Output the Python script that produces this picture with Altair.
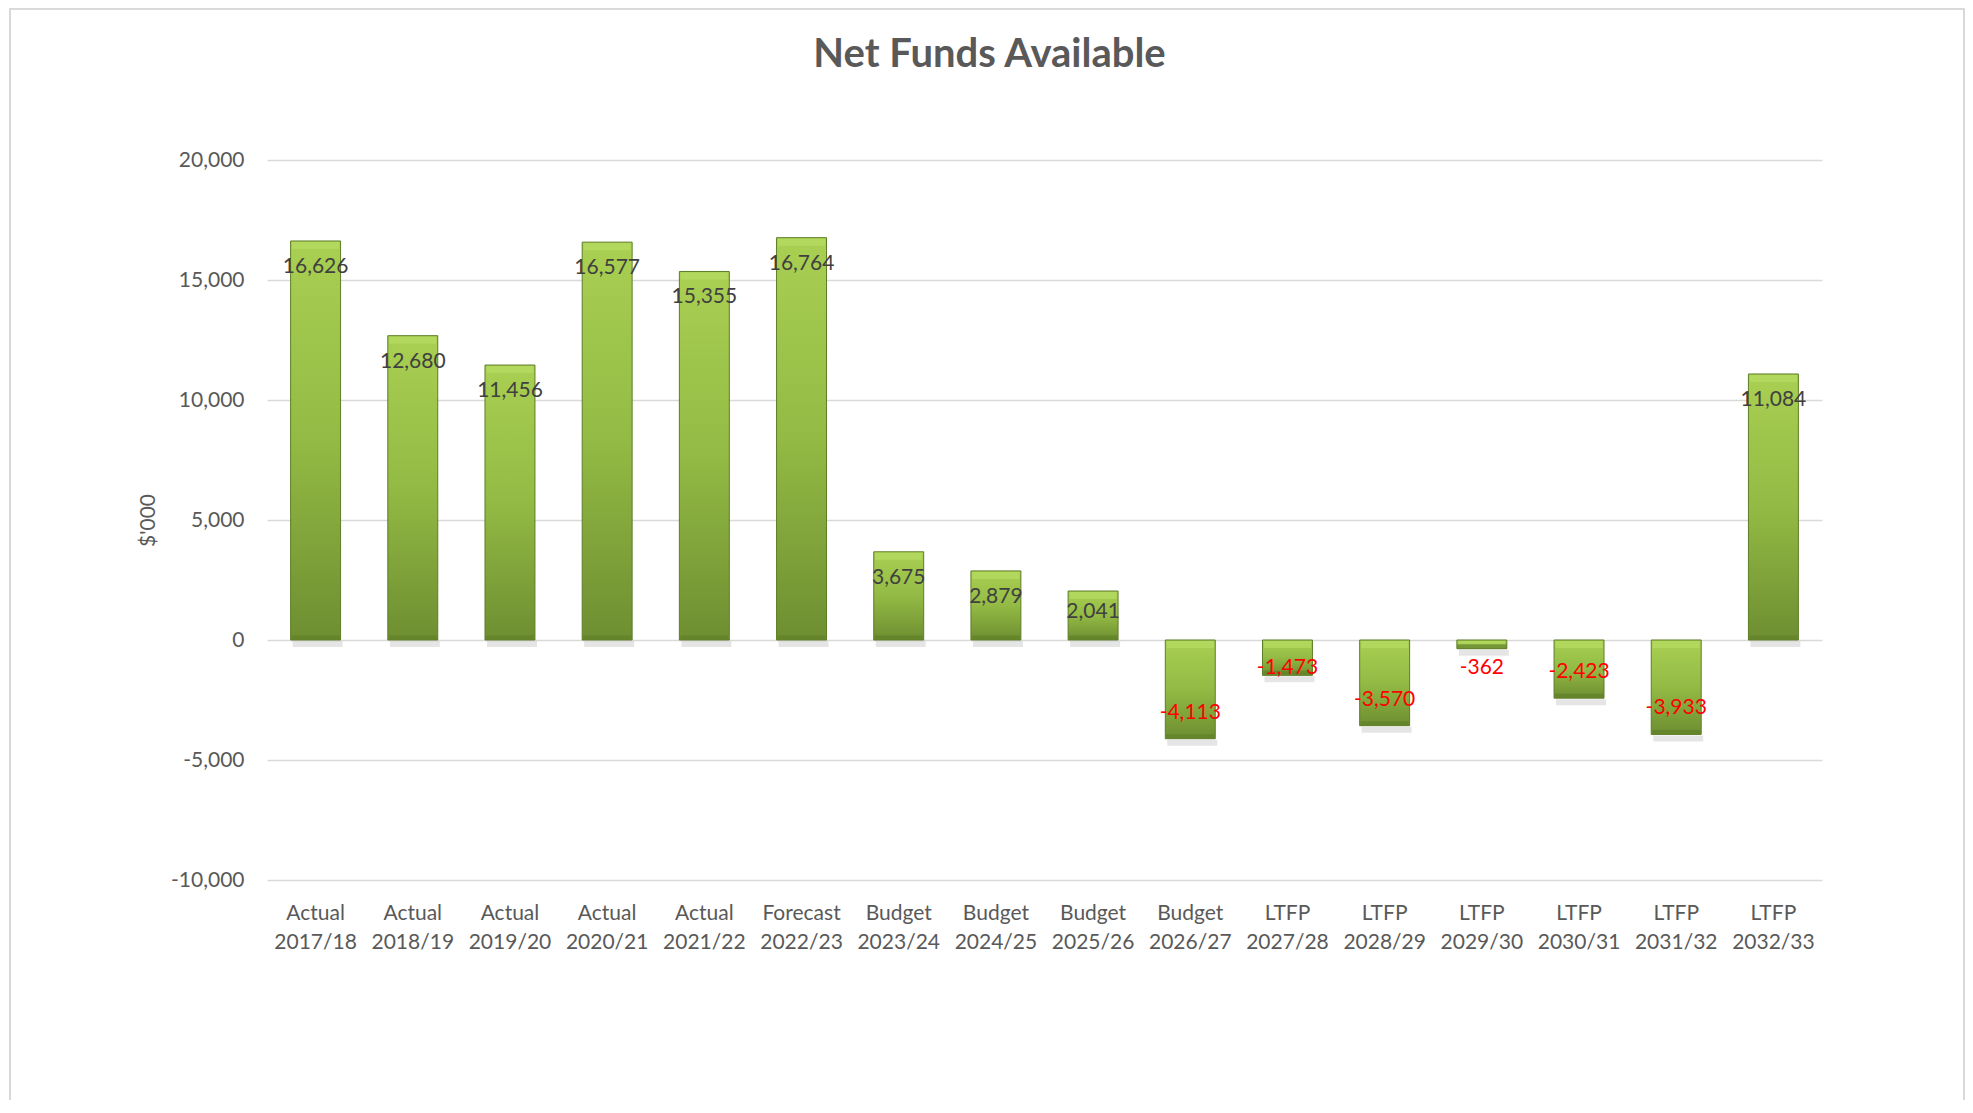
import altair as alt
import pandas as pd

categories = [
    "Actual 2017/18", "Actual 2018/19", "Actual 2019/20", "Actual 2020/21",
    "Actual 2021/22", "Forecast 2022/23", "Budget 2023/24", "Budget 2024/25",
    "Budget 2025/26", "Budget 2026/27", "LTFP 2027/28", "LTFP 2028/29",
    "LTFP 2029/30", "LTFP 2030/31", "LTFP 2031/32", "LTFP 2032/33",
]
values = [16626, 12680, 11456, 16577, 15355, 16764, 3675, 2879, 2041,
          -4113, -1473, -3570, -362, -2423, -3933, 11084]
y_ticks = [-10000, -5000, 0, 5000, 10000, 15000, 20000]

df = pd.DataFrame({"category": categories, "value": values})
df["label"] = [f"{v:,}" for v in values]
df["top"] = df["value"].clip(lower=0)
df["bottom"] = df["value"].clip(upper=0)

FONT = "Lato"
GRAY = "#595959"

yscale = alt.Scale(domain=[-10000, 20000], nice=False, zero=False)
xscale = alt.Scale(paddingInner=0.486, paddingOuter=0.243)

x = alt.X(
    "category:N", sort=categories, scale=xscale,
    axis=alt.Axis(
        title=None, labelAngle=0, labelExpr="split(datum.label, ' ')",
        labelFont=FONT, labelFontSize=21, labelColor=GRAY, labelPadding=22,
        labelLineHeight=29, domain=False, ticks=False, grid=False,
        labelBaseline="top",
    ),
)

y_axis = alt.Axis(
    values=y_ticks, title="$'000", grid=True, gridColor="#d9d9d9", gridWidth=1.5,
    domain=False, ticks=False, labelPadding=23, labelFont=FONT, labelFontSize=21,
    labelColor=GRAY, labelExpr="replace(format(datum.value, ','), '\u2212', '-')",
    titleFont=FONT, titleFontSize=21, titleFontWeight="normal", titleColor=GRAY,
    titleAngle=270, titleX=-119, titleY=360, titleAlign="center", titleBaseline="middle",
)

base = alt.Chart(df)

gradient = alt.Gradient(
    gradient="linear",
    stops=[
        alt.GradientStop(color="#a9d052", offset=0),
        alt.GradientStop(color="#93ba44", offset=0.5),
        alt.GradientStop(color="#6e8e31", offset=1),
    ],
    x1=0, x2=0, y1=0, y2=1,
)

shadow = base.mark_tick(color="#000000", opacity=0.10, thickness=6, size=50,
                        yOffset=4, xOffset=2).encode(
    x=x, y=alt.Y("bottom:Q", scale=yscale, axis=y_axis))

bars = base.mark_bar(color=gradient, stroke="#5e7d27", strokeWidth=1).encode(
    x=x, y=alt.Y("value:Q", scale=yscale, axis=y_axis))

top_bevel = base.mark_tick(color="#b6db62", thickness=7, size=47, yOffset=4.5).encode(
    x=x, y=alt.Y("top:Q", scale=yscale, axis=y_axis))

bottom_bevel = base.mark_tick(color="#61802a", thickness=4, size=48, yOffset=-2.5).encode(
    x=x, y=alt.Y("bottom:Q", scale=yscale, axis=y_axis))

labels = base.transform_calculate(
    label_y="datum.value > 0 ? max(datum.value - 1083, 1170) : min(datum.value + 1083, -1170)"
).mark_text(font=FONT, fontSize=21, baseline="middle", align="center").encode(
    x=x,
    y=alt.Y("label_y:Q", scale=yscale, axis=y_axis),
    text="label:N",
    color=alt.condition(alt.datum.value > 0, alt.value("#404040"), alt.value("#ff0000")),
)

frame = alt.Chart(pd.DataFrame({"f": [0]})).mark_rect(
    fill="transparent", stroke="#d9d9d9", strokeWidth=2
).encode(
    x=alt.value(-257), x2=alt.value(1697), y=alt.value(-151), y2=alt.value(960)
)

chart = alt.layer(frame, shadow, bars, top_bevel, bottom_bevel, labels).properties(
    width=1555, height=720,
    autosize=alt.AutoSizeParams(type="none"),
    padding={"left": 259, "top": 152, "right": 143, "bottom": 220},
    title=alt.TitleParams(
        "Net Funds Available", font=FONT, fontSize=40, fontWeight="bold",
        color=GRAY, anchor="middle", frame="group", dx=-55, offset=-67,
    ),
).configure(
    background="white",
    view=alt.ViewConfig(stroke="transparent", strokeWidth=0),
)

chart.save("out.html", embed_options={"renderer": "svg", "actions": False})
